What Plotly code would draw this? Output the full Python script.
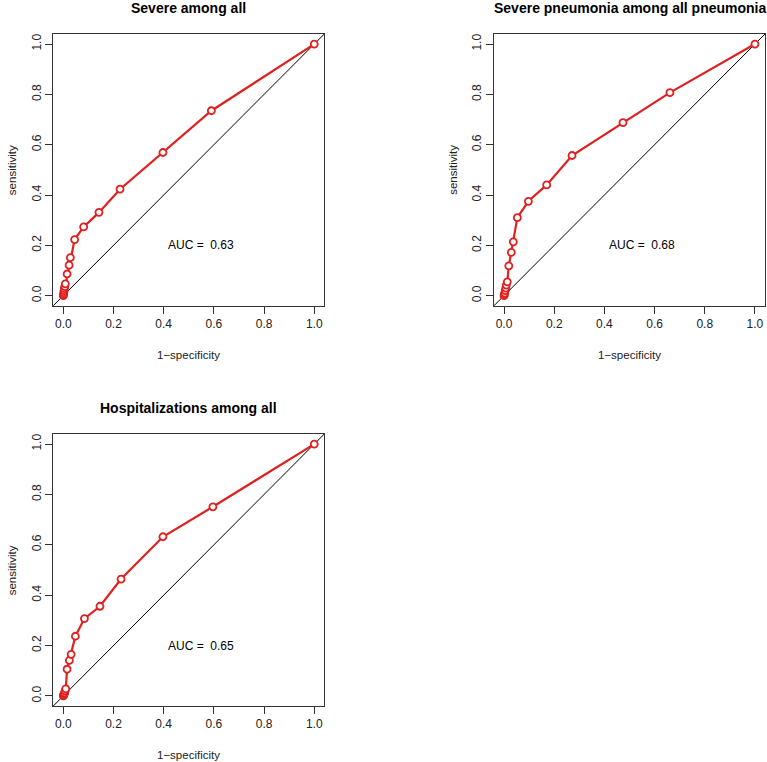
import plotly.graph_objects as go

# ---- data ----
titles = ["Severe among all", "Severe pneumonia among all pneumonia", "Hospitalizations among all"]
auc_labels = ["AUC =  0.63", "AUC =  0.68", "AUC =  0.65"]

fpr_1 = [0.0, 0.001, 0.002, 0.003, 0.004, 0.006, 0.008, 0.015, 0.023, 0.028, 0.045, 0.081, 0.142, 0.226, 0.397, 0.59, 1.0]
tpr_1 = [0.0, 0.005, 0.012, 0.02, 0.028, 0.036, 0.047, 0.086, 0.121, 0.151, 0.223, 0.273, 0.331, 0.423, 0.569, 0.735, 1.0]

fpr_2 = [0.0, 0.001, 0.003, 0.005, 0.007, 0.009, 0.013, 0.019, 0.029, 0.037, 0.053, 0.097, 0.17, 0.271, 0.474, 0.661, 1.0]
tpr_2 = [0.0, 0.004, 0.01, 0.02, 0.03, 0.042, 0.055, 0.118, 0.172, 0.214, 0.31, 0.375, 0.44, 0.557, 0.688, 0.807, 1.0]

fpr_3 = [0.0, 0.001, 0.003, 0.005, 0.007, 0.0096, 0.015, 0.024, 0.031, 0.048, 0.084, 0.146, 0.23, 0.397, 0.596, 1.0]
tpr_3 = [0.0, 0.003, 0.008, 0.012, 0.02, 0.028, 0.106, 0.141, 0.165, 0.237, 0.307, 0.356, 0.464, 0.632, 0.751, 1.0]

tick_vals = [0.0, 0.2, 0.4, 0.6, 0.8, 1.0]
tick_text = ["0.0", "0.2", "0.4", "0.6", "0.8", "1.0"]

W, H = 767, 762
RED = "#E0201E"
FONT = "Liberation Sans, Arial, Helvetica, sans-serif"

# panel boxes in pixels: (left, right, top, bottom)
boxes = [(53.3, 324.3, 34.0, 305.7), (494.0, 765.0, 34.0, 305.7), (53.3, 324.3, 434.0, 706.0)]
series = [(fpr_1, tpr_1), (fpr_2, tpr_2), (fpr_3, tpr_3)]

fig = go.Figure()
annotations = []
shapes = []
for i, ((l, r, t, b), (fx, ty)) in enumerate(zip(boxes, series)):
    n = "" if i == 0 else str(i + 1)
    xa = "x" + n
    ya = "y" + n
    fig.add_trace(go.Scatter(
        x=fx, y=ty, mode="lines+markers", xaxis=xa, yaxis=ya,
        line=dict(color=RED, width=2.2),
        marker=dict(symbol="circle", size=7, color="white", line=dict(color=RED, width=1.8)),
        showlegend=False, hoverinfo="x+y"))
    axis_common = dict(range=[-0.04, 1.04], tickvals=tick_vals, ticktext=tick_text,
                       showgrid=False, zeroline=False, showline=True, mirror=True,
                       linecolor="#333333", linewidth=1, ticks="outside", ticklen=7,
                       tickcolor="#333333", tickwidth=1,
                       tickfont=dict(family=FONT, size=12, color="#222222"))
    fig.layout["xaxis" + n] = dict(axis_common, domain=[l / W, r / W], anchor=ya)
    fig.layout["yaxis" + n] = dict(axis_common, domain=[1 - b / H, 1 - t / H], anchor=xa, tickangle=-90)
    # diagonal reference line across the plotting region
    shapes.append(dict(type="line", xref=xa + " domain", yref=ya + " domain", x0=0, y0=0, x1=1, y1=1,
                       line=dict(color="black", width=1), layer="below"))
    cx = (l + r) / 2 / W
    annotations.append(dict(text="<b>" + titles[i] + "</b>", x=cx, y=1 - (t - 26) / H, xref="paper", yref="paper",
                            showarrow=False, font=dict(family=FONT, size=14, color="black"),
                            xanchor="center", yanchor="middle"))
    annotations.append(dict(text="1\u2212specificity", x=cx, y=1 - (b + 49) / H, xref="paper", yref="paper",
                            showarrow=False, font=dict(family=FONT, size=11.5, color="#222222"),
                            xanchor="center", yanchor="middle"))
    annotations.append(dict(text="sensitivity", x=(l - 41) / W, y=1 - (t + b) / 2 / H, xref="paper", yref="paper",
                            showarrow=False, textangle=-90, font=dict(family=FONT, size=11.5, color="#222222"),
                            xanchor="center", yanchor="middle"))
    annotations.append(dict(text=auc_labels[i], x=0.55, y=0.2, xref=xa, yref=ya, showarrow=False,
                            font=dict(family=FONT, size=12, color="black"),
                            xanchor="center", yanchor="middle"))

fig.update_layout(width=W, height=H, margin=dict(l=0, r=0, t=0, b=0),
                  paper_bgcolor="white", plot_bgcolor="white",
                  annotations=annotations, shapes=shapes)

fig.write_html("out.html", config={"displayModeBar": False},
               post_script="document.body.style.margin='0';document.body.style.padding='0';"
                           "document.body.style.overflow='hidden';")
